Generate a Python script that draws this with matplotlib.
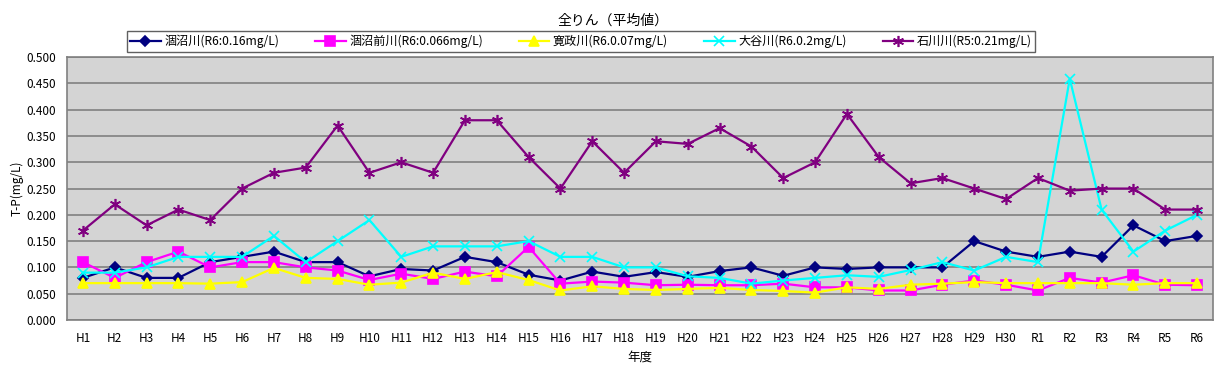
import matplotlib
matplotlib.use('Agg')
import matplotlib.pyplot as plt
import numpy as np

plt.rcParams['font.family'] = ['Noto Sans CJK JP', 'DejaVu Sans']

# Data
years = ['H1', 'H2', 'H3', 'H4', 'H5', 'H6', 'H7', 'H8', 'H9', 'H10',
         'H11', 'H12', 'H13', 'H14', 'H15', 'H16', 'H17', 'H18', 'H19', 'H20',
         'H21', 'H22', 'H23', 'H24', 'H25', 'H26', 'H27', 'H28', 'H29', 'H30',
         'R1', 'R2', 'R3', 'R4', 'R5', 'R6']

hinuma = [0.080, 0.100, 0.080, 0.080, 0.110, 0.120, 0.130, 0.110, 0.110, 0.083,
          0.097, 0.094, 0.120, 0.110, 0.086, 0.075, 0.092, 0.082, 0.091, 0.082,
          0.093, 0.100, 0.084, 0.100, 0.097, 0.100, 0.100, 0.100, 0.150, 0.130,
          0.120, 0.130, 0.120, 0.180, 0.150, 0.160]
hinuma_mae = [0.110, 0.080, 0.110, 0.130, 0.100, 0.110, 0.110, 0.100, 0.094, 0.076,
              0.088, 0.078, 0.092, 0.083, 0.139, 0.069, 0.073, 0.071, 0.066, 0.067,
              0.066, 0.066, 0.069, 0.062, 0.062, 0.056, 0.056, 0.067, 0.075, 0.067,
              0.056, 0.080, 0.071, 0.085, 0.067, 0.066]
kansei = [0.070, 0.070, 0.070, 0.070, 0.069, 0.072, 0.099, 0.080, 0.078, 0.067,
          0.071, 0.090, 0.078, 0.091, 0.076, 0.056, 0.064, 0.059, 0.057, 0.059,
          0.061, 0.057, 0.055, 0.052, 0.062, 0.059, 0.067, 0.069, 0.072, 0.070,
          0.070, 0.070, 0.070, 0.067, 0.070, 0.070]
oya = [0.090, 0.090, 0.100, 0.120, 0.120, 0.120, 0.160, 0.110, 0.150, 0.190,
       0.120, 0.140, 0.140, 0.140, 0.150, 0.120, 0.120, 0.100, 0.100, 0.083,
       0.080, 0.069, 0.075, 0.080, 0.085, 0.082, 0.095, 0.110, 0.094, 0.120,
       0.110, 0.459, 0.210, 0.130, 0.170, 0.200]
ishikawa = [0.170, 0.220, 0.180, 0.210, 0.190, 0.250, 0.280, 0.290, 0.370, 0.280,
            0.300, 0.280, 0.380, 0.380, 0.310, 0.250, 0.340, 0.280, 0.340, 0.335,
            0.365, 0.330, 0.270, 0.300, 0.392, 0.310, 0.260, 0.270, 0.250, 0.230,
            0.270, 0.246, 0.250, 0.250, 0.210, 0.210]

series = [
    ('涸沼川(R6:0.16mg/L)', hinuma, '#000080', 'D', 5, '#000080'),
    ('涸沼前川(R6:0.066mg/L)', hinuma_mae, '#FF00FF', 's', 7, '#FF00FF'),
    ('寛政川(R6.0.07mg/L)', kansei, '#FFFF00', '^', 7, '#FFFF00'),
    ('大谷川(R6.0.2mg/L)', oya, '#00FFFF', 'x', 7, '#00FFFF'),
    ('石川川(R5:0.21mg/L)', ishikawa, '#800080', (6, 2, 0), 8, '#800080'),
]

fig = plt.figure(figsize=(12.27, 3.69), dpi=100)
ax = fig.add_axes([0.0546, 0.133, 0.934, 0.712])
ax.set_facecolor('#D4D4D4')

x = np.arange(len(years))
handles = []
for label, vals, color, marker, ms, mc in series:
    h, = ax.plot(x, vals, color=color, lw=1.6, marker=marker, markersize=ms,
                 markerfacecolor=mc, markeredgecolor=mc, markeredgewidth=1.2,
                 label=label, zorder=3)
    handles.append(h)

ax.set_xlim(-0.5, len(years) - 0.5)
ax.set_ylim(0, 0.5)
ax.set_yticks(np.arange(0, 0.501, 0.05))
ax.set_yticklabels(['%.3f' % v for v in np.arange(0, 0.501, 0.05)])
ax.set_xticks(x)
ax.set_xticklabels(years)
ax.tick_params(axis='both', length=0, labelsize=8.5, pad=8)
ax.tick_params(axis='x', pad=9)
ax.yaxis.grid(True, color='#808080', lw=1.2)
ax.set_axisbelow(True)
for s in ax.spines.values():
    s.set_color('#808080')
    s.set_linewidth(1.2)

ax.set_ylabel('T-P(mg/L)', fontsize=8.5, labelpad=2)
ax.set_xlabel('年度', fontsize=9, labelpad=4)

fig.text(0.5, 0.945, '全りん（平均値）', ha='center', va='center', fontsize=10)

leg = fig.legend(handles=handles, loc='center', bbox_to_anchor=(0.4735, 0.888),
                 ncol=5, fontsize=8.7, frameon=True, fancybox=False,
                 edgecolor='#606060', handlelength=2.5, columnspacing=3.0,
                 handletextpad=0.3, borderpad=0.3, borderaxespad=0,
                 framealpha=1)
leg.get_frame().set_linewidth(1.0)

plt.savefig('out.png', dpi=100)
plt.close()
